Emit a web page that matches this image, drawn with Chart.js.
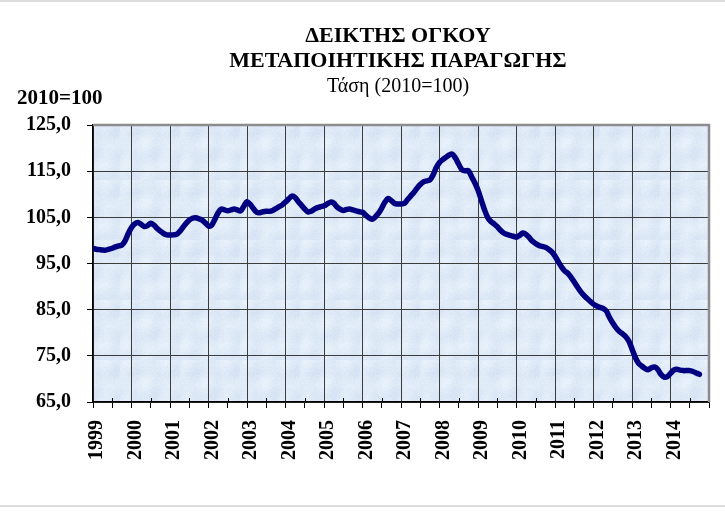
<!DOCTYPE html>
<html>
<head>
<meta charset="utf-8">
<script src="https://cdn.jsdelivr.net/npm/chart.js@4"></script>
<style>
  body { margin: 0; background: #fff; }
  canvas { display: block; }
</style>
</head>
<body>
<canvas id="trendChart" width="725" height="513"></canvas>
<script>
"use strict";

const startYear = 1999;
const endYear = 2015;
const yearLabels = ["1999", "2000", "2001", "2002", "2003", "2004", "2005", "2006",
  "2007", "2008", "2009", "2010", "2011", "2012", "2013", "2014"];
const yTicks = [65, 75, 85, 95, 105, 115, 125];
const titleLines = ["ΔΕΙΚΤΗΣ ΟΓΚΟΥ", "ΜΕΤΑΠΟΙΗΤΙΚΗΣ ΠΑΡΑΓΩΓΗΣ"];
const subtitleText = "Τάση (2010=100)";
const unitText = "2010=100";

// monthly trend of the index, Jan 1999 .. Oct 2014
const trendValues = [
  98.3, 98.1, 98.0, 97.9, 97.9, 98.1, 98.3, 98.6, 98.8, 99.0, 99.9, 101.5,
  102.8, 103.6, 103.9, 103.5, 103.0, 103.2, 103.7, 103.3, 102.6, 102.0, 101.5, 101.2,
  101.2, 101.2, 101.3, 101.9, 102.8, 103.7, 104.4, 104.8, 104.9, 104.7, 104.4, 103.8,
  103.1, 103.3, 104.6, 106.0, 106.8, 106.6, 106.4, 106.6, 106.8, 106.6, 106.4, 107.4,
  108.4, 107.8, 106.9, 106.1, 106.0, 106.2, 106.3, 106.3, 106.5, 106.9, 107.3, 107.7,
  108.3, 109.0, 109.6, 109.3, 108.4, 107.6, 106.8, 106.2, 106.3, 106.8, 107.1, 107.3,
  107.5, 107.9, 108.3, 108.1, 107.3, 106.8, 106.5, 106.7, 106.8, 106.6, 106.4, 106.2,
  106.1, 105.5, 104.9, 104.6, 105.1, 105.9, 107.0, 108.3, 109.1, 108.6, 108.0, 107.9,
  107.9, 108.0, 108.8, 109.6, 110.4, 111.3, 112.1, 112.7, 112.9, 113.1, 114.2, 115.8,
  116.9, 117.5, 118.0, 118.5, 118.7, 117.8, 116.5, 115.3, 115.1, 115.1, 113.8, 112.5,
  110.9, 108.8, 106.7, 105.0, 104.1, 103.6, 103.0, 102.2, 101.6, 101.3, 101.1, 100.9,
  100.7, 101.1, 101.6, 101.3, 100.6, 99.8, 99.3, 98.9, 98.7, 98.5, 98.1, 97.5,
  96.6, 95.4, 94.3, 93.4, 92.9, 92.0, 91.0, 89.9, 88.9, 88.1, 87.4, 86.8,
  86.2, 85.8, 85.5, 85.3, 84.7, 83.3, 82.1, 81.1, 80.3, 79.8, 79.2, 78.2,
  76.5, 74.7, 73.4, 72.8, 72.3, 72.0, 72.4, 72.6, 72.1, 71.0, 70.4, 70.5,
  71.2, 71.9, 72.1, 71.9, 71.8, 71.8, 71.8, 71.6, 71.3, 71.0
];

const points = trendValues.map((v, i) => ({ x: startYear + i / 12, y: v }));

// year ticks plus half-year minor ticks on the x axis
const xTickValues = [];
for (let v = startYear; v <= endYear; v += 0.5) xTickValues.push(v);

const serif = "'Liberation Serif', 'Times New Roman', serif";
const gridColor = "#3c3c3c";

function makeTexture() {
  const c = document.createElement("canvas");
  c.width = 60;
  c.height = 60;
  const g = c.getContext("2d");
  const img = g.createImageData(60, 60);
  for (let y = 0; y < 60; y++) {
    for (let x = 0; x < 60; x++) {
      let n = Math.sin(x * 12.9898 + y * 78.233) * 43758.5453;
      n = n - Math.floor(n);
      const w = Math.sin(x * 0.31) + Math.cos(y * 0.27) + Math.sin((x + y) * 0.17);
      const d = (n - 0.5) * 9 + w * 3;
      const k = (y * 60 + x) * 4;
      img.data[k] = 223 + d;
      img.data[k + 1] = 234 + d * 0.8;
      img.data[k + 2] = 247 + d * 0.4;
      img.data[k + 3] = 255;
    }
  }
  g.putImageData(img, 0, 0);
  return c;
}

const backgroundPlugin = {
  id: "plotBackground",
  beforeDraw(chart) {
    const { ctx, chartArea: a } = chart;
    ctx.save();
    ctx.fillStyle = "#fff";
    ctx.fillRect(0, 0, chart.width, chart.height);
    ctx.fillStyle = ctx.createPattern(makeTexture(), "repeat");
    ctx.fillRect(a.left, a.top, a.right - a.left, a.bottom - a.top);
    // light page rules top and bottom
    ctx.fillStyle = "#dcdcdc";
    ctx.fillRect(0, 0, chart.width, 2);
    ctx.fillRect(0, 505, chart.width, 2);
    ctx.restore();
  },
  beforeDatasetsDraw(chart) {
    const { ctx, chartArea: a } = chart;
    const xs = chart.scales.x;
    ctx.save();
    ctx.strokeStyle = "#8c8c8c";
    ctx.lineWidth = 2.5;
    ctx.beginPath();
    ctx.moveTo(a.left, a.top);
    ctx.lineTo(a.right, a.top);
    ctx.lineTo(a.right, a.bottom);
    ctx.stroke();
    // minor ticks also reach a little inside the plot
    ctx.strokeStyle = "#000";
    ctx.lineWidth = 1;
    ctx.beginPath();
    xTickValues.forEach((v) => {
      if (Number.isInteger(v)) return;
      const px = Math.round(xs.getPixelForValue(v)) + 0.5;
      ctx.moveTo(px, a.bottom - 4);
      ctx.lineTo(px, a.bottom);
    });
    ctx.stroke();
    ctx.restore();
  },
  afterDraw(chart) {
    const ctx = chart.ctx;
    const cx = 398;
    ctx.save();
    ctx.fillStyle = "#000";
    ctx.textAlign = "center";
    ctx.textBaseline = "alphabetic";
    ctx.font = "bold 22px " + serif;
    ctx.fillText(titleLines[0], cx, 42);
    ctx.fillText(titleLines[1], cx, 67);
    ctx.font = "20px " + serif;
    ctx.fillText(subtitleText, cx, 92);
    ctx.textAlign = "left";
    ctx.font = "bold 21px " + serif;
    ctx.fillText(unitText, 17, 104);
    ctx.restore();
  }
};

new Chart(document.getElementById("trendChart"), {
  type: "line",
  data: {
    datasets: [{
      data: points,
      borderColor: "#000080",
      borderWidth: 5.5,
      pointRadius: 0,
      tension: 0.3,
      borderCapStyle: "round",
      borderJoinStyle: "round",
      fill: false
    }]
  },
  options: {
    responsive: false,
    animation: false,
    layout: { padding: { top: 125, right: 16, left: 0, bottom: 0 } },
    plugins: {
      legend: { display: false },
      tooltip: { enabled: false },
      title: { display: false }
    },
    scales: {
      x: {
        type: "linear",
        min: startYear,
        max: endYear,
        afterBuildTicks: (scale) => {
          scale.ticks = xTickValues.map((v) => ({ value: v }));
        },
        afterFit: (scale) => {
          scale.height = 111;
          scale.paddingLeft = 0;
          scale.paddingRight = 0;
        },
        ticks: {
          autoSkip: false,
          minRotation: 90,
          maxRotation: 90,
          padding: 12,
          labelOffset: 4,
          color: "#000",
          font: { family: serif, size: 20, weight: "bold" },
          callback: (v) => {
            const label = String(v);
            return yearLabels.includes(label) ? label : "";
          }
        },
        grid: {
          color: (c) => (Number.isInteger(c.tick.value) && c.tick.value < endYear ? gridColor : "rgba(0,0,0,0)"),
          tickColor: "#000",
          tickLength: 6,
          lineWidth: 1
        },
        border: { color: "#000", width: 1.5 }
      },
      y: {
        min: 65,
        max: 125,
        afterBuildTicks: (scale) => {
          scale.ticks = yTicks.map((v) => ({ value: v }));
        },
        afterFit: (scale) => { scale.width = 93; },
        ticks: {
          padding: 16,
          color: "#000",
          font: { family: serif, size: 20, weight: "bold" },
          callback: (v) => v.toFixed(1).replace(".", ",")
        },
        grid: {
          color: (c) => (c.tick.value === 125 ? "rgba(0,0,0,0)" : gridColor),
          tickColor: "#000",
          tickLength: 6,
          lineWidth: 1
        },
        border: { color: "#000", width: 1.5 }
      }
    }
  },
  plugins: [backgroundPlugin]
});
</script>
</body>
</html>
